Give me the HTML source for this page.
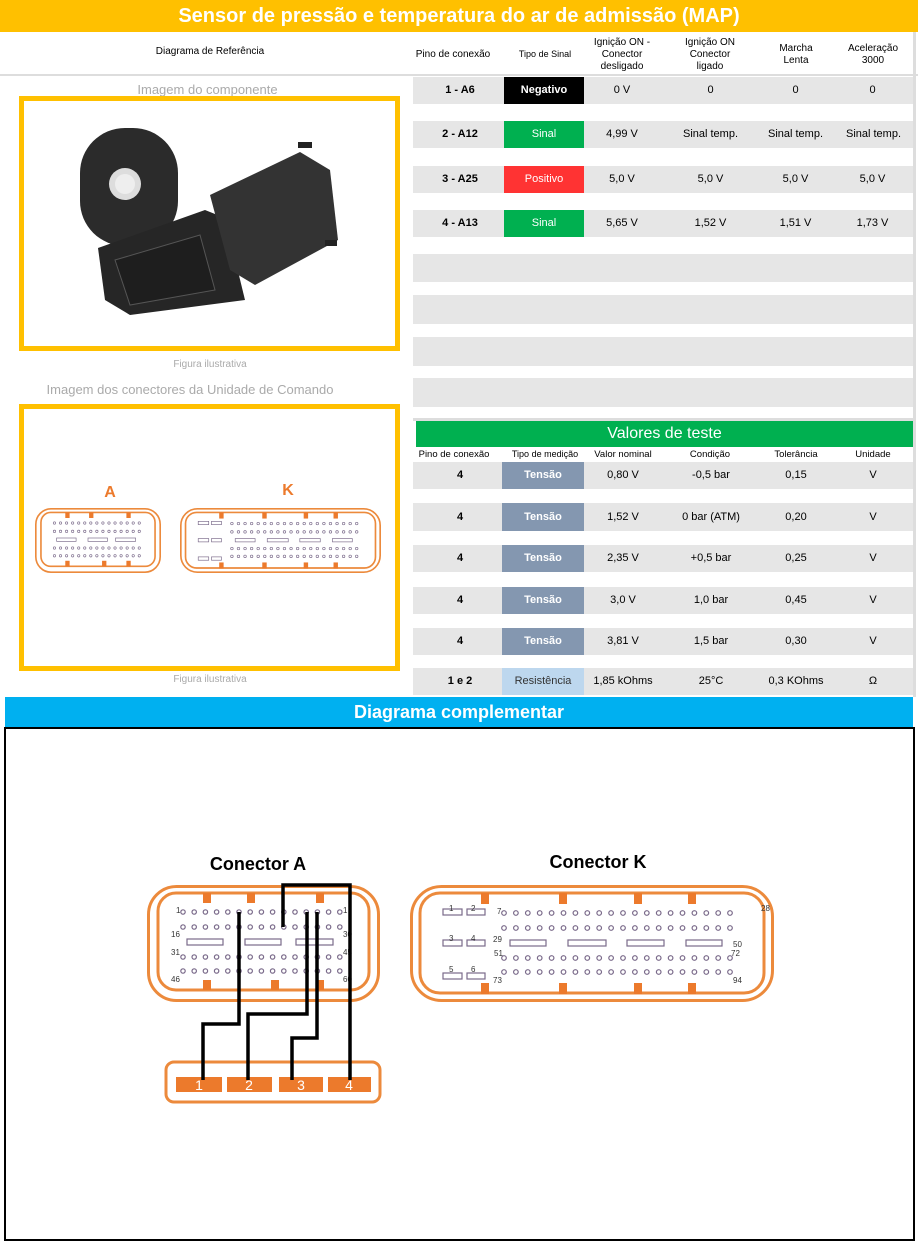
<!DOCTYPE html>
<html><head><meta charset="utf-8">
<style>
*{margin:0;padding:0;box-sizing:border-box}
body{width:918px;height:1243px;background:#fff;position:relative;overflow:hidden;font-family:"Liberation Sans",sans-serif}
.a{position:absolute}
.t{position:absolute;text-align:center;font-size:11px;color:#000}
.g{position:absolute;background:#e6e6e6}
.b{position:absolute;color:#fff;font-size:11px;text-align:center;font-weight:bold}
</style></head><body>
<svg width="0" height="0" style="position:absolute">
<defs>
<g id="rowA"><circle cx="36" cy="0" r="2.2"/><circle cx="47.2" cy="0" r="2.2"/><circle cx="58.4" cy="0" r="2.2"/><circle cx="69.6" cy="0" r="2.2"/><circle cx="80.8" cy="0" r="2.2"/><circle cx="92" cy="0" r="2.2"/><circle cx="103.2" cy="0" r="2.2"/><circle cx="114.4" cy="0" r="2.2"/><circle cx="125.6" cy="0" r="2.2"/><circle cx="136.8" cy="0" r="2.2"/><circle cx="148" cy="0" r="2.2"/><circle cx="159.2" cy="0" r="2.2"/><circle cx="170.4" cy="0" r="2.2"/><circle cx="181.6" cy="0" r="2.2"/><circle cx="192.8" cy="0" r="2.2"/></g>
<g id="rowK"><circle cx="94" cy="0" r="2.3"/><circle cx="105.9" cy="0" r="2.3"/><circle cx="117.8" cy="0" r="2.3"/><circle cx="129.7" cy="0" r="2.3"/><circle cx="141.6" cy="0" r="2.3"/><circle cx="153.5" cy="0" r="2.3"/><circle cx="165.4" cy="0" r="2.3"/><circle cx="177.3" cy="0" r="2.3"/><circle cx="189.2" cy="0" r="2.3"/><circle cx="201.1" cy="0" r="2.3"/><circle cx="213" cy="0" r="2.3"/><circle cx="224.9" cy="0" r="2.3"/><circle cx="236.8" cy="0" r="2.3"/><circle cx="248.7" cy="0" r="2.3"/><circle cx="260.6" cy="0" r="2.3"/><circle cx="272.5" cy="0" r="2.3"/><circle cx="284.4" cy="0" r="2.3"/><circle cx="296.3" cy="0" r="2.3"/><circle cx="308.2" cy="0" r="2.3"/><circle cx="320" cy="0" r="2.3"/></g>
<symbol id="conA" viewBox="0 0 233 117" preserveAspectRatio="none">
<rect x="1.5" y="1.5" width="230" height="114" rx="28" fill="none" stroke="#ec8a3c" stroke-width="3"/>
<rect x="11" y="8" width="211" height="97" rx="18" fill="none" stroke="#ec8a3c" stroke-width="3"/>
<g fill="#ec7a2c"><rect x="56" y="8" width="8" height="10"/><rect x="100" y="8" width="8" height="10"/><rect x="169" y="8" width="8" height="10"/>
<rect x="56" y="95" width="8" height="10"/><rect x="124" y="95" width="8" height="10"/><rect x="169" y="95" width="8" height="10"/></g>
<g fill="none" stroke="#7a6a8a" stroke-width="1.2">
<use href="#rowA" y="27"/><use href="#rowA" y="42"/><use href="#rowA" y="72"/><use href="#rowA" y="86"/>
<rect x="40" y="54" width="36" height="6"/><rect x="98" y="54" width="36" height="6"/><rect x="149" y="54" width="37" height="6"/>
</g>
</symbol>
<symbol id="conK" viewBox="0 0 364 117" preserveAspectRatio="none">
<rect x="1.5" y="1.5" width="361" height="114" rx="30" fill="none" stroke="#ec8a3c" stroke-width="3"/>
<rect x="10" y="8" width="344" height="100" rx="20" fill="none" stroke="#ec8a3c" stroke-width="3"/>
<g fill="#ec7a2c"><rect x="71" y="8" width="8" height="11"/><rect x="149" y="8" width="8" height="11"/><rect x="224" y="8" width="8" height="11"/><rect x="278" y="8" width="8" height="11"/>
<rect x="71" y="98" width="8" height="11"/><rect x="149" y="98" width="8" height="11"/><rect x="224" y="98" width="8" height="11"/><rect x="278" y="98" width="8" height="11"/></g>
<g fill="none" stroke="#7a6a8a" stroke-width="1.2">
<use href="#rowK" y="28"/><use href="#rowK" y="43"/><use href="#rowK" y="73"/><use href="#rowK" y="87"/>
<rect x="100" y="55" width="36" height="6"/><rect x="158" y="55" width="38" height="6"/><rect x="217" y="55" width="37" height="6"/><rect x="276" y="55" width="36" height="6"/>
<rect x="33" y="24" width="19" height="6"/><rect x="57" y="24" width="18" height="6"/>
<rect x="33" y="55" width="19" height="6"/><rect x="57" y="55" width="18" height="6"/>
<rect x="33" y="88" width="19" height="6"/><rect x="57" y="88" width="18" height="6"/>
</g>
</symbol>
</defs></svg>

<div class="a" style="left:0;top:0;width:918px;height:32px;background:#ffc000;color:#fff;font-weight:bold;font-size:20px;text-align:center;line-height:32px">Sensor de pressão e temperatura do ar de admissão (MAP)</div>
<div class="a" style="left:0;top:74px;width:918px;height:2px;background:#ddd"></div>
<div class="a" style="left:913px;top:32px;width:3px;height:665px;background:#ddd"></div>
<div class="t" style="left:60px;top:46px;width:300px;font-size:10px">Diagrama de Referência</div>
<div class="t" style="left:410px;top:49px;width:86px;font-size:10px">Pino de conexão</div>
<div class="t" style="left:505px;top:49px;width:80px;font-size:9px">Tipo de Sinal</div>
<div class="t" style="left:585px;top:37px;width:74px;font-size:10px;line-height:12px">Ignição ON -<br>Conector<br>desligado</div>
<div class="t" style="left:672px;top:37px;width:76px;font-size:10px;line-height:12px">Ignição ON<br>Conector<br>ligado</div>
<div class="t" style="left:760px;top:43px;width:72px;font-size:10px;line-height:12px">Marcha<br>Lenta</div>
<div class="t" style="left:836px;top:43px;width:74px;font-size:10px;line-height:12px">Aceleração<br>3000</div>

<div class="g" style="left:413px;top:77px;width:500px;height:27px"></div>
<div class="g" style="left:413px;top:121px;width:500px;height:27px"></div>
<div class="g" style="left:413px;top:166px;width:500px;height:27px"></div>
<div class="g" style="left:413px;top:210px;width:500px;height:27px"></div>
<div class="g" style="left:413px;top:254px;width:500px;height:28px"></div>
<div class="g" style="left:413px;top:295px;width:500px;height:29px"></div>
<div class="g" style="left:413px;top:337px;width:500px;height:29px"></div>
<div class="g" style="left:413px;top:378px;width:500px;height:29px"></div>
<div class="b" style="left:504px;top:77px;width:80px;height:27px;line-height:27px;background:#000">Negativo</div>
<div class="b" style="left:504px;top:121px;width:80px;height:27px;line-height:27px;background:#00b050;font-weight:normal">Sinal</div>
<div class="b" style="left:504px;top:166px;width:80px;height:27px;line-height:27px;background:#ff3333;font-weight:normal">Positivo</div>
<div class="b" style="left:504px;top:210px;width:80px;height:27px;line-height:27px;background:#00b050;font-weight:normal">Sinal</div>
<div class="a" style="left:413px;top:84px;width:500px;font-size:11px">
<span class="t" style="left:10px;width:74px;font-weight:bold">1 - A6</span><span class="t" style="left:170px;width:78px">0 V</span><span class="t" style="left:260px;width:75px">0</span><span class="t" style="left:345px;width:75px">0</span><span class="t" style="left:422px;width:75px">0</span></div>
<div class="a" style="left:413px;top:128px;width:500px">
<span class="t" style="left:10px;width:74px;font-weight:bold">2 - A12</span><span class="t" style="left:170px;width:78px">4,99 V</span><span class="t" style="left:255px;width:85px">Sinal temp.</span><span class="t" style="left:340px;width:85px">Sinal temp.</span><span class="t" style="left:418px;width:85px">Sinal temp.</span></div>
<div class="a" style="left:413px;top:173px;width:500px">
<span class="t" style="left:10px;width:74px;font-weight:bold">3 - A25</span><span class="t" style="left:170px;width:78px">5,0 V</span><span class="t" style="left:260px;width:75px">5,0 V</span><span class="t" style="left:345px;width:75px">5,0 V</span><span class="t" style="left:422px;width:75px">5,0 V</span></div>
<div class="a" style="left:413px;top:217px;width:500px">
<span class="t" style="left:10px;width:74px;font-weight:bold">4 - A13</span><span class="t" style="left:170px;width:78px">5,65 V</span><span class="t" style="left:260px;width:75px">1,52 V</span><span class="t" style="left:345px;width:75px">1,51 V</span><span class="t" style="left:422px;width:75px">1,73 V</span></div>

<div class="t" style="left:60px;top:82px;width:295px;font-size:13px;color:#aaa">Imagem do componente</div>
<div class="a" style="left:19px;top:96px;width:381px;height:255px;border:5px solid #ffc000"></div>
<svg class="a" style="left:19px;top:96px" width="381" height="255">
<g transform="translate(1,4)">
<rect x="60" y="28" width="98" height="118" rx="45" fill="#2b2b2b"/>
<polygon points="78,148 185,110 205,118 225,200 110,215 85,200" fill="#262626"/>
<polygon points="190,95 280,52 310,70 318,140 235,185 210,170" fill="#333"/>
<rect x="278" y="42" width="14" height="6" fill="#222"/>
<rect x="305" y="140" width="12" height="6" fill="#222"/>
<polygon points="95,160 180,135 195,190 110,205" fill="#1e1e1e" stroke="#555"/>
<circle cx="105" cy="84" r="16" fill="#ddd"/>
<circle cx="105" cy="84" r="10" fill="#eee"/>
</g></svg>
<div class="t" style="left:130px;top:359px;width:160px;font-size:10px;color:#aaa">Figura ilustrativa</div>
<div class="t" style="left:20px;top:382px;width:340px;font-size:13px;color:#aaa">Imagem dos conectores da Unidade  de Comando</div>
<div class="a" style="left:19px;top:404px;width:381px;height:267px;border:5px solid #ffc000"></div>
<div class="t" style="left:95px;top:484px;width:30px;font-size:16px;font-weight:bold;color:#ec7a2c">A</div>
<div class="t" style="left:273px;top:482px;width:30px;font-size:16px;font-weight:bold;color:#ec7a2c">K</div>
<svg class="a" style="left:35px;top:508px" width="126" height="65"><use href="#conA" width="126" height="65"/></svg>
<svg class="a" style="left:180px;top:508px" width="201" height="65"><use href="#conK" width="201" height="65"/></svg>
<div class="t" style="left:130px;top:674px;width:160px;font-size:10px;color:#aaa">Figura ilustrativa</div>

<div class="a" style="left:413px;top:418px;width:500px;height:3px;background:#ddd"></div>
<div class="a" style="left:416px;top:421px;width:497px;height:26px;background:#00b050;color:#fff;font-size:16px;text-align:center;line-height:26px">Valores de teste</div>
<div class="a" style="left:413px;top:449px;width:500px;font-size:9px">
<span class="t" style="left:0;width:82px;font-size:9.5px">Pino de conexão</span><span class="t" style="left:92px;width:80px;font-size:9px">Tipo de medição</span><span class="t" style="left:175px;width:70px;font-size:9.5px">Valor nominal</span><span class="t" style="left:262px;width:70px;font-size:9.5px">Condição</span><span class="t" style="left:348px;width:70px;font-size:9.5px">Tolerância</span><span class="t" style="left:425px;width:70px;font-size:9.5px">Unidade</span></div>

<div class="g" style="left:413px;top:462px;width:500px;height:27px"></div>
<div class="g" style="left:413px;top:503px;width:500px;height:28px"></div>
<div class="g" style="left:413px;top:545px;width:500px;height:27px"></div>
<div class="g" style="left:413px;top:587px;width:500px;height:27px"></div>
<div class="g" style="left:413px;top:628px;width:500px;height:27px"></div>
<div class="g" style="left:413px;top:668px;width:500px;height:27px"></div>
<div class="b" style="left:502px;top:462px;width:82px;height:27px;line-height:27px;background:#8497b0">Tensão</div>
<div class="b" style="left:502px;top:503px;width:82px;height:28px;line-height:28px;background:#8497b0">Tensão</div>
<div class="b" style="left:502px;top:545px;width:82px;height:27px;line-height:27px;background:#8497b0">Tensão</div>
<div class="b" style="left:502px;top:587px;width:82px;height:27px;line-height:27px;background:#8497b0">Tensão</div>
<div class="b" style="left:502px;top:628px;width:82px;height:27px;line-height:27px;background:#8497b0">Tensão</div>
<div class="b" style="left:502px;top:668px;width:82px;height:27px;line-height:27px;background:#bdd7ee;color:#333;font-weight:normal">Resistência</div>

<div class="a" style="left:413px;top:469px;width:500px"><span class="t" style="left:10px;width:74px;font-weight:bold">4</span><span class="t" style="left:172px;width:76px">0,80 V</span><span class="t" style="left:258px;width:80px">-0,5 bar</span><span class="t" style="left:346px;width:74px">0,15</span><span class="t" style="left:423px;width:74px">V</span></div>
<div class="a" style="left:413px;top:511px;width:500px"><span class="t" style="left:10px;width:74px;font-weight:bold">4</span><span class="t" style="left:172px;width:76px">1,52 V</span><span class="t" style="left:253px;width:90px">0 bar (ATM)</span><span class="t" style="left:346px;width:74px">0,20</span><span class="t" style="left:423px;width:74px">V</span></div>
<div class="a" style="left:413px;top:552px;width:500px"><span class="t" style="left:10px;width:74px;font-weight:bold">4</span><span class="t" style="left:172px;width:76px">2,35 V</span><span class="t" style="left:258px;width:80px">+0,5 bar</span><span class="t" style="left:346px;width:74px">0,25</span><span class="t" style="left:423px;width:74px">V</span></div>
<div class="a" style="left:413px;top:594px;width:500px"><span class="t" style="left:10px;width:74px;font-weight:bold">4</span><span class="t" style="left:172px;width:76px">3,0 V</span><span class="t" style="left:258px;width:80px">1,0 bar</span><span class="t" style="left:346px;width:74px">0,45</span><span class="t" style="left:423px;width:74px">V</span></div>
<div class="a" style="left:413px;top:635px;width:500px"><span class="t" style="left:10px;width:74px;font-weight:bold">4</span><span class="t" style="left:172px;width:76px">3,81 V</span><span class="t" style="left:258px;width:80px">1,5 bar</span><span class="t" style="left:346px;width:74px">0,30</span><span class="t" style="left:423px;width:74px">V</span></div>
<div class="a" style="left:413px;top:675px;width:500px"><span class="t" style="left:10px;width:74px;font-weight:bold">1 e 2</span><span class="t" style="left:170px;width:80px">1,85 kOhms</span><span class="t" style="left:258px;width:80px">25°C</span><span class="t" style="left:340px;width:86px">0,3 KOhms</span><span class="t" style="left:423px;width:74px">Ω</span></div>

<div class="a" style="left:5px;top:697px;width:908px;height:30px;background:#00b0f0;color:#fff;font-weight:bold;font-size:18px;text-align:center;line-height:30px">Diagrama complementar</div>
<div class="a" style="left:4px;top:727px;width:911px;height:514px;border:2px solid #000"></div>
<div class="t" style="left:158px;top:854px;width:200px;font-size:18px;font-weight:bold">Conector A</div>
<div class="t" style="left:498px;top:852px;width:200px;font-size:18px;font-weight:bold">Conector K</div>
<svg class="a" style="left:147px;top:885px" width="233" height="117"><use href="#conA" width="233" height="117"/></svg>
<svg class="a" style="left:410px;top:885px" width="364" height="117"><use href="#conK" width="364" height="117"/></svg>
<svg class="a" style="left:0;top:840px" width="918" height="300">
<g font-family="Liberation Sans, sans-serif" font-size="8" fill="#333">
<text x="176" y="73">1</text><text x="343" y="73">1</text><text x="171" y="97">16</text><text x="343" y="97">30</text>
<text x="171" y="115">31</text><text x="343" y="115">45</text><text x="171" y="142">46</text><text x="343" y="142">60</text>
<text x="449" y="71">1</text><text x="471" y="71">2</text><text x="497" y="74">7</text><text x="761" y="71">28</text>
<text x="449" y="101">3</text><text x="471" y="101">4</text><text x="493" y="102">29</text><text x="733" y="107">50</text>
<text x="494" y="116">51</text><text x="731" y="116">72</text>
<text x="449" y="132">5</text><text x="471" y="132">6</text><text x="493" y="143">73</text><text x="733" y="143">94</text>
</g>
<rect x="166" y="222" width="214" height="40" rx="8" fill="none" stroke="#ec8a3c" stroke-width="3"/>
<g fill="#ec7a2c"><rect x="176" y="237" width="46" height="15"/><rect x="227" y="237" width="45" height="15"/><rect x="279" y="237" width="44" height="15"/><rect x="328" y="237" width="43" height="15"/></g>
<g fill="#fff" font-family="Liberation Sans, sans-serif" font-size="14" text-anchor="middle"><text x="199" y="250">1</text><text x="249" y="250">2</text><text x="301" y="250">3</text><text x="349" y="250">4</text></g>
<g fill="none" stroke="#000" stroke-width="3.5">
<polyline points="239,72 239,184 203,184 203,240"/>
<polyline points="307,72 307,174 248,174 248,240"/>
<polyline points="317,72 317,198 292,198 292,240"/>
<polyline points="283,87 283,45 350,45 350,240"/>
</g>
</svg>
</body></html>
